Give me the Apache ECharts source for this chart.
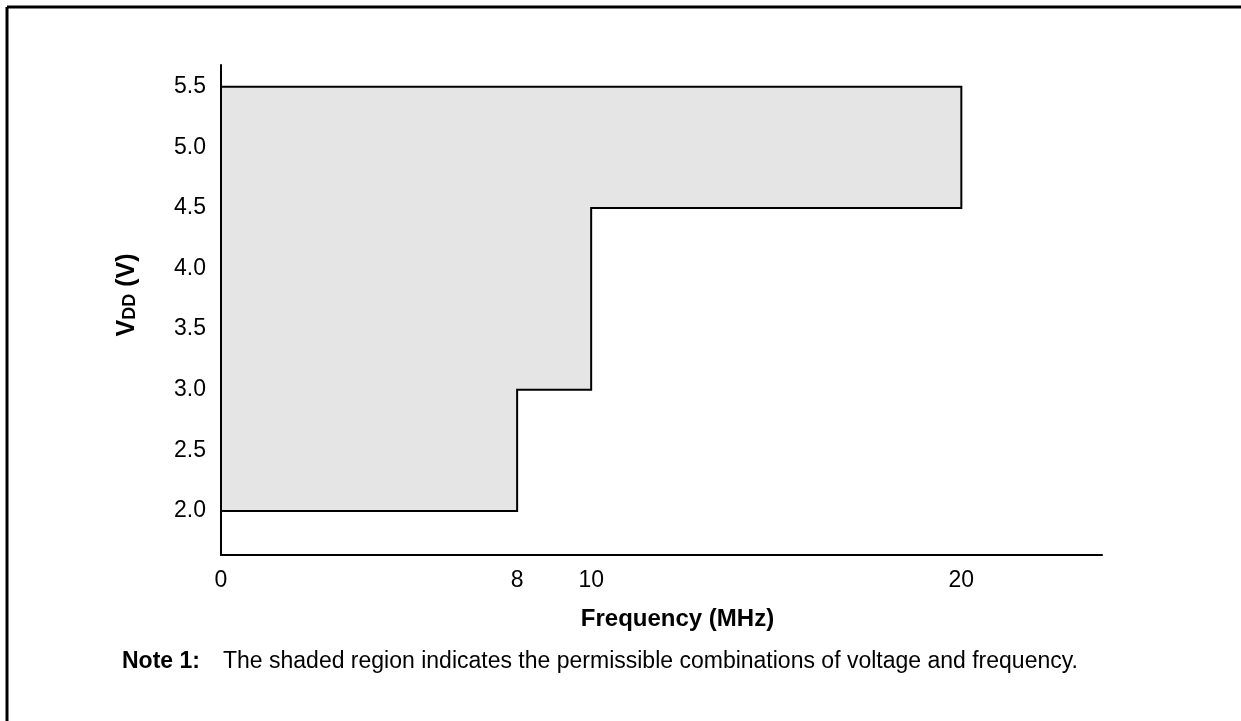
<!DOCTYPE html>
<html>
<head>
<meta charset="utf-8">
<script src="https://cdn.jsdelivr.net/npm/echarts@6/dist/echarts.min.js"></script>
<style>
  html, body { margin: 0; padding: 0; background: #fff; }
  #mainChart { width: 1241px; height: 721px; }
</style>
</head>
<body>
<div id="mainChart"></div>
<script>
// outline of the permitted region, corner by corner
var freqMHz = [0, 8, 8, 10, 10, 20, 20, 0];
var vddVolts = [2.0, 2.0, 3.0, 3.0, 4.5, 4.5, 5.5, 5.5];
// tick labels
var freqTicks = [0, 8, 10, 20];
var vddTicks = [2.0, 2.5, 3.0, 3.5, 4.0, 4.5, 5.0, 5.5];

var fontName = '"Liberation Sans", Arial, sans-serif';
var myChart = echarts.init(document.getElementById('mainChart'));

var points = [];
for (var i = 0; i < freqMHz.length; i++) {
    points.push([freqMHz[i], vddVolts[i]]);
}

var option = {
    animation: false,
    backgroundColor: '#fff',
    grid: { left: 221, right: 139, top: 65, bottom: 166 },
    xAxis: {
        type: 'value',
        min: 0,
        max: 23.8,
        name: 'Frequency (MHz)',
        nameLocation: 'middle',
        nameGap: 52,
        nameTextStyle: {
            fontFamily: fontName, fontSize: 24, fontWeight: 'bold', color: '#000',
            padding: [0, 0, 0, 32]
        },
        axisLine: { lineStyle: { color: '#000', width: 2 } },
        axisTick: { show: false },
        splitLine: { show: false },
        axisLabel: {
            customValues: freqTicks,
            margin: 14,
            fontFamily: fontName, fontSize: 23, color: '#000'
        }
    },
    yAxis: {
        type: 'value',
        min: 1.636,
        max: 5.68,
        axisLine: { show: true, lineStyle: { color: '#000', width: 2 } },
        axisTick: { show: false },
        splitLine: { show: false },
        axisLabel: {
            customValues: vddTicks,
            margin: 15,
            fontFamily: fontName, fontSize: 23, color: '#000',
            formatter: function (v) { return v.toFixed(1); }
        }
    },
    series: [{
        type: 'custom',
        data: points,
        renderItem: function (params, api) {
            if (params.dataIndex !== 0) return;
            var pts = [];
            for (var k = 0; k < points.length; k++) {
                pts.push(api.coord(points[k]));
            }
            return {
                type: 'polygon',
                shape: { points: pts },
                style: { fill: '#e5e5e5', stroke: '#000', lineWidth: 2 }
            };
        }
    }],
    graphic: [
        // frame: only top and left edges show
        { type: 'line', shape: { x1: 7, y1: 7, x2: 1241, y2: 7 }, style: { stroke: '#000', lineWidth: 3 } },
        { type: 'line', shape: { x1: 7, y1: 7, x2: 7, y2: 721 }, style: { stroke: '#000', lineWidth: 3 } },
        {
            type: 'text', x: 127, y: 295, rotation: Math.PI / 2,
            style: {
                text: '{a|V}{b|DD}{a| (V)}',
                align: 'center', verticalAlign: 'middle',
                rich: {
                    a: { fontFamily: fontName, fontSize: 25, fontWeight: 'bold', fill: '#000' },
                    b: { fontFamily: fontName, fontSize: 18, fontWeight: 'bold', fill: '#000', padding: [6, 0, 0, 0] }
                }
            }
        },
        {
            type: 'text', x: 122, y: 662,
            style: {
                text: 'Note 1:',
                fontFamily: fontName, fontSize: 23, fontWeight: 'bold', fill: '#000',
                verticalAlign: 'middle'
            }
        },
        {
            type: 'text', x: 223, y: 662,
            style: {
                text: 'The shaded region indicates the permissible combinations of voltage and frequency.',
                fontFamily: fontName, fontSize: 23, fill: '#000',
                verticalAlign: 'middle'
            }
        }
    ]
};
myChart.setOption(option);
</script>
</body>
</html>
